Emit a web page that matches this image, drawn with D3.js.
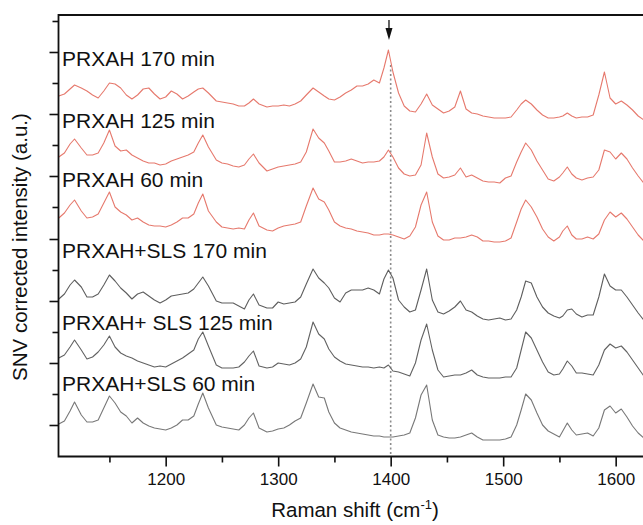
<!DOCTYPE html>
<html>
<head>
<meta charset="utf-8">
<script src="https://d3js.org/d3.v7.min.js"></script>
<style>
  body { margin: 0; background: #fff; }
  svg text { font-family: "Liberation Sans", Arial, sans-serif; fill: #111; }
</style>
</head>
<body>
<script>
var width = 643, height = 525;

// Raman shift (cm-1), shared by every spectrum
var shift = [1105,1110,1115,1119,1125,1130,1135,1140,1145,1150,
  1155,1160,1165,1170,1175,1180,1185,1190,1195,1200,
  1205,1210,1215,1220,1225,1229,1233,1238,1245,1250,
  1255,1260,1265,1270,1274,1278,1283,1290,1295,1300,
  1305,1310,1315,1320,1325,1331,1336,1341,1345,1350,
  1355,1360,1365,1370,1375,1380,1385,1390,1394,1398,
  1402,1407,1412,1417,1422,1427,1432,1437,1442,1447,
  1452,1457,1462,1467,1472,1477,1482,1487,1492,1497,
  1502,1507,1512,1516,1520,1525,1530,1535,1540,1545,
  1550,1553,1557,1561,1565,1570,1575,1580,1585,1590,
  1595,1600,1605,1610,1615,1620,1625];

// stacked SNV spectra (a.u., stack offset included)
var prxah170 = [361,363,368,372,369,366,362,359,366,374,
  373,369,362,358,362,368,369,363,358,360,
  366,363,358,361,365,368,369,364,356,355,
  354,353,351,351,354,358,353,350,351,351,
  352,351,353,356,362,369,365,361,358,357,
  360,364,367,371,371,373,377,374,389,407,
  385,364,351,346,345,353,363,352,348,344,
  346,350,366,348,344,343,341,340,339,339,
  339,340,347,353,357,353,347,342,339,339,
  340,341,344,341,339,340,340,342,362,385,
  359,353,356,352,347,341,337];
var prxah125 = [300,304,313,318,309,302,302,304,314,327,
  311,306,307,302,299,296,294,294,292,293,
  296,298,300,302,305,314,322,310,297,294,
  293,291,290,292,298,303,294,286,288,290,
  291,292,293,295,305,328,319,314,306,295,
  295,296,298,296,294,295,295,296,300,307,
  300,289,283,281,282,292,324,300,283,279,
  280,282,289,280,282,279,276,275,275,274,
  279,281,295,305,314,307,296,287,278,276,
  280,284,290,283,279,277,279,280,287,307,
  305,298,304,298,289,281,274];
var prxah60 = [239,244,252,257,246,239,240,243,254,265,
  250,245,242,237,239,235,232,231,231,230,
  232,235,239,239,243,254,263,246,235,230,
  229,228,229,228,237,244,231,227,226,229,
  231,232,233,235,251,269,258,255,247,235,
  231,229,228,226,225,224,222,222,223,223,
  222,220,218,221,230,252,265,235,221,217,
  217,219,219,220,222,220,216,216,215,215,
  216,219,235,248,257,250,240,228,220,216,
  220,226,231,222,218,218,220,218,223,237,
  245,240,244,238,230,222,216];
var sls170 = [158,163,172,177,170,160,160,163,172,182,
  176,169,164,158,163,165,161,157,154,157,
  161,162,163,164,168,174,180,171,156,154,
  154,154,151,148,157,163,152,149,149,155,
  153,154,155,160,173,188,179,174,169,159,
  155,164,167,167,167,169,167,163,178,187,
  179,157,150,145,147,167,188,157,145,143,
  146,150,156,147,145,141,138,137,138,139,
  137,138,147,160,176,174,160,150,144,141,
  139,141,147,148,143,140,142,142,160,183,
  171,167,167,160,152,144,137];
var sls125 = [99,102,110,117,107,98,100,105,112,121,
  110,104,101,99,96,94,92,90,91,90,
  93,96,99,103,107,118,125,111,92,89,
  89,89,90,95,101,106,91,89,90,94,
  93,92,94,98,110,135,123,118,108,100,
  96,93,92,91,90,90,89,90,89,92,
  86,85,83,81,94,117,133,107,87,80,
  81,82,82,84,87,82,80,79,79,79,
  80,80,89,107,125,119,107,95,85,82,
  83,88,96,91,84,84,83,82,92,107,
  113,109,111,105,97,89,81];
var sls60 = [33,36,46,55,42,35,35,37,49,61,
  54,45,41,34,39,34,31,29,28,27,
  29,32,37,37,41,53,64,49,32,30,
  29,28,27,32,39,44,29,25,26,28,
  29,32,36,39,54,73,60,59,45,34,
  29,27,25,24,23,22,21,21,20,20,
  20,21,22,24,39,62,72,37,22,20,
  19,19,20,22,24,20,17,17,17,17,
  18,20,32,47,63,57,44,32,26,23,
  20,26,34,27,22,23,24,21,29,47,
  51,44,48,40,31,24,19];

var seriesNames = ["PRXAH 170 min", "PRXAH 125 min", "PRXAH 60 min",
  "PRXAH+SLS 170 min", "PRXAH+ SLS 125 min", "PRXAH+SLS 60 min"];
var seriesValues = [prxah170, prxah125, prxah60, sls170, sls125, sls60];
var seriesColors = ["#e6796d", "#e6796d", "#e6796d", "#5e5e5e", "#626262", "#787878"];
// intensity level where each series label sits
var labelLevel = [391.5, 329, 270, 199, 127, 66.5];

var xMajor = [1200, 1300, 1400, 1500, 1600];
var xMinor = [1150, 1250, 1350, 1450, 1550, 1650];
var yMajor = [32, 94, 156, 218, 281, 343, 405];
var yMinor = [63, 125, 187, 250, 312, 374, 436];
var markShift = 1400;   // dotted marker line
var arrowShift = 1398.5;

var x = d3.scaleLinear().domain([1105, 1625]).range([58.8, 643.8]);
var y = d3.scaleLinear().domain([0, 442]).range([457, 15]);

var svg = d3.select('body').append('svg').attr('width', width).attr('height', height);

svg.append('clipPath').attr('id', 'plot')
  .append('rect').attr('x', 58.5).attr('y', 15).attr('width', 600).attr('height', 442);

// dotted marker at 1400
svg.append('line')
  .attr('x1', x(markShift)).attr('x2', x(markShift))
  .attr('y1', y(392)).attr('y2', y(0))
  .attr('stroke', '#8c8c8c').attr('stroke-width', 1.6)
  .attr('stroke-dasharray', '2,2.5');

// spectra
var line = d3.line()
  .x(function (d, i) { return x(shift[i]); })
  .y(function (d) { return y(d); });

svg.append('g').attr('clip-path', 'url(#plot)')
  .selectAll('path')
  .data(seriesValues)
  .join('path')
  .attr('d', line)
  .attr('fill', 'none')
  .attr('stroke', function (d, i) { return seriesColors[i]; })
  .attr('stroke-width', 1.1)
  .attr('stroke-linejoin', 'round');

// series labels
svg.append('g').selectAll('text')
  .data(seriesNames)
  .join('text')
  .attr('x', 62)
  .attr('y', function (d, i) { return y(labelLevel[i]); })
  .style('font-size', '21px')
  .text(function (d) { return d; });

// arrow
var ax = x(arrowShift);
svg.append('line')
  .attr('x1', ax).attr('x2', ax).attr('y1', y(437)).attr('y2', y(425))
  .attr('stroke', '#111').attr('stroke-width', 1.3);
svg.append('path')
  .attr('d', 'M' + (ax - 3.5) + ',' + y(429) + 'L' + (ax + 3.5) + ',' + y(429) + 'L' + ax + ',' + y(417) + 'Z')
  .attr('fill', '#111');

// axes
var xAxis = svg.append('g').attr('transform', 'translate(0,456.5)')
  .call(d3.axisBottom(x).tickValues(xMajor).tickSize(10).tickPadding(6).tickFormat(d3.format('d')));
svg.append('g').attr('transform', 'translate(0,456.5)')
  .call(d3.axisBottom(x).tickValues(xMinor).tickSize(6).tickFormat(''));
svg.append('g').attr('transform', 'translate(58.5,0)')
  .call(d3.axisLeft(y).tickValues(yMajor).tickSize(9).tickFormat(''));
svg.append('g').attr('transform', 'translate(58.5,0)')
  .call(d3.axisLeft(y).tickValues(yMinor).tickSize(6).tickFormat(''));

svg.selectAll('.domain').remove();
svg.selectAll('.tick line').attr('stroke', '#111').attr('stroke-width', 1.6);
xAxis.selectAll('text').style('font-size', '17px').attr('fill', '#222');

// frame: left, bottom and top lines
svg.append('path')
  .attr('d', 'M' + 700 + ',15H58.5V456.5H700')
  .attr('fill', 'none').attr('stroke', '#111').attr('stroke-width', 1.8);

// axis titles
svg.append('text')
  .attr('transform', 'translate(27,247) rotate(-90)')
  .attr('text-anchor', 'middle')
  .style('font-size', '20.5px')
  .text('SNV corrected intensity (a.u.)');

var xt = svg.append('text')
  .attr('x', 355).attr('y', 517)
  .attr('text-anchor', 'middle')
  .style('font-size', '20.5px');
xt.append('tspan').text('Raman shift (cm');
xt.append('tspan').attr('dy', -8).style('font-size', '13px').text('-1');
xt.append('tspan').attr('dy', 8).text(')');
</script>
</body>
</html>
